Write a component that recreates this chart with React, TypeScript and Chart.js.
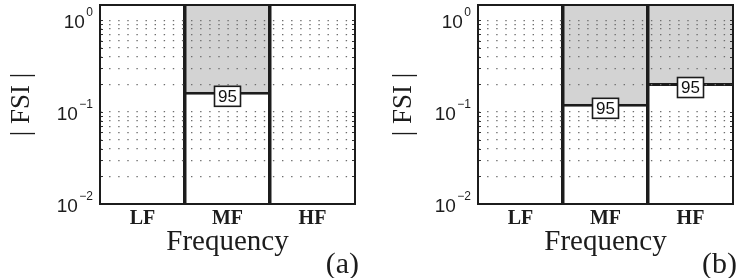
import React, { useEffect, useRef } from 'react';
import { Chart, registerables } from 'chart.js';

Chart.register(...registerables);

const CATEGORIES = ['LF', 'MF', 'HF'];
const THRESHOLDS_A: (number | null)[] = [null, 0.154, null];
const THRESHOLDS_B: (number | null)[] = [null, 0.114, 0.192];
const BOX_LABELS_A = ['', '95', ''];
const BOX_LABELS_B = ['', '95', '95'];
const PANEL_TAGS = ['(a)', '(b)'];
const X_TITLE = 'Frequency';
const Y_TITLE = '| FSI |';
const Y_MIN = 0.01;
const Y_MAX = 1.46;
const Y_MAJOR_VALUES = [0.01, 0.1, 1];
const Y_TICK_BASE = '10';
const Y_TICK_EXPONENTS = ['\u22122', '\u22121', '0'];
const Y_GRID_VALUES = [
  0.01, 0.02, 0.03, 0.04, 0.05, 0.06, 0.07, 0.08, 0.09,
  0.1, 0.2, 0.3, 0.4, 0.5, 0.6, 0.7, 0.8, 0.9,
  1,
];

const INK = '#1c1c1c';
const SERIF = '"Liberation Serif", "Times New Roman", serif';
const SANS = '"Liberation Sans", Arial, sans-serif';

type PanelProps = {
  thresholds: (number | null)[];
  boxLabels: string[];
  tag: string;
  left: number;
  yTitlePad: number;
};

function Panel({ thresholds, boxLabels, tag, left, yTitlePad }: PanelProps) {
  const ref = useRef<HTMLCanvasElement>(null);

  useEffect(() => {
    const canvas = ref.current;
    if (!canvas) return;

    // thick separators only at inner category boundaries next to a shaded column
    const isThick = (c: any) => {
      if (c.type !== 'tick') return false;
      const b = c.index;
      if (b <= 0 || b >= CATEGORIES.length) return false;
      return thresholds[b - 1] != null || thresholds[b] != null;
    };

    const overlay = {
      id: 'overlay',
      afterDraw(chart: any) {
        const { ctx, chartArea: a, scales } = chart;
        const xs = scales.x;
        const ys = scales.y;
        ctx.save();

        // inside tick marks on left and right axes
        ctx.strokeStyle = '#333';
        ctx.lineWidth = 1;
        Y_GRID_VALUES.forEach((v) => {
          const py = Math.round(ys.getPixelForValue(v)) + 0.5;
          ctx.beginPath();
          ctx.moveTo(a.left, py);
          ctx.lineTo(a.left + 3, py);
          ctx.moveTo(a.right - 3, py);
          ctx.lineTo(a.right, py);
          ctx.stroke();
        });

        // axes box
        ctx.strokeStyle = INK;
        ctx.lineWidth = 2;
        ctx.strokeRect(a.left, a.top, a.right - a.left, a.bottom - a.top);

        // y tick labels with superscript exponents
        ctx.fillStyle = INK;
        ctx.textBaseline = 'alphabetic';
        Y_MAJOR_VALUES.forEach((v, i) => {
          const py = ys.getPixelForValue(v);
          const right = a.left - 7;
          const exp = Y_TICK_EXPONENTS[i];
          ctx.font = `12px ${SANS}`;
          const ew = ctx.measureText(exp).width;
          ctx.textAlign = 'left';
          ctx.fillText(exp, right - ew, py - 4);
          ctx.font = `19px ${SANS}`;
          ctx.textAlign = 'right';
          ctx.fillText(Y_TICK_BASE, right - ew - 1.5, py + 7.5);
        });

        // threshold value boxes
        thresholds.forEach((t, i) => {
          if (t == null) return;
          const px = xs.getPixelForValue(i);
          const py = ys.getPixelForValue(t) + 1.5;
          const w = 26;
          const h = 20;
          ctx.fillStyle = '#ffffff';
          ctx.fillRect(px - w / 2, py - h / 2, w, h);
          ctx.strokeStyle = INK;
          ctx.lineWidth = 1.6;
          ctx.strokeRect(px - w / 2, py - h / 2, w, h);
          ctx.fillStyle = '#111';
          ctx.font = `17px ${SANS}`;
          ctx.textAlign = 'center';
          ctx.textBaseline = 'middle';
          ctx.fillText(boxLabels[i], px, py + 1);
        });

        // panel tag
        ctx.fillStyle = INK;
        ctx.font = `30px ${SERIF}`;
        ctx.textAlign = 'right';
        ctx.textBaseline = 'alphabetic';
        ctx.fillText(tag, chart.width - 1, 273);
        ctx.restore();
      },
    };

    const chart = new Chart(canvas, {
      type: 'bar',
      data: {
        labels: CATEGORIES,
        datasets: [
          {
            data: thresholds.map((t) => (t == null ? null : [t, Y_MAX])) as any,
            backgroundColor: '#d3d3d3',
            borderColor: INK,
            borderWidth: { top: 0, right: 0, bottom: 3, left: 0 },
            borderSkipped: false,
            barPercentage: 1,
            categoryPercentage: 1,
            inflateAmount: 0,
          } as any,
        ],
      },
      options: {
        responsive: false,
        devicePixelRatio: 1,
        animation: false,
        layout: { padding: { left: 0, right: 5, top: 5, bottom: 0 } },
        plugins: {
          legend: { display: false },
          tooltip: { enabled: false },
        },
        scales: {
          x: {
            type: 'category',
            offset: true,
            afterFit: (s: any) => {
              s.height = 74;
            },
            grid: {
              offset: true,
              z: 1,
              drawTicks: false,
              color: (c: any) => (isThick(c) ? INK : 'rgba(0,0,0,0)'),
              lineWidth: (c: any) => (isThick(c) ? 3.5 : 0),
            },
            border: { display: false },
            ticks: {
              padding: 3,
              color: INK,
              font: { family: SERIF, size: 20, weight: 'bold' },
            },
            title: {
              display: true,
              text: X_TITLE,
              color: INK,
              font: { family: SERIF, size: 29 },
              padding: { top: 0, bottom: 18 },
            },
          } as any,
          y: {
            type: 'logarithmic',
            min: Y_MIN,
            max: Y_MAX,
            afterFit: (s: any) => {
              s.width = 100;
            },
            afterBuildTicks: (s: any) => {
              s.ticks = Y_GRID_VALUES.map((v) => ({ value: v }));
            },
            grid: {
              z: 1,
              drawTicks: false,
              color: '#6e6e6e',
              lineWidth: 1.2,
            },
            border: { display: false, dash: [1.4, 7.7] },
            ticks: { display: false },
            title: {
              display: true,
              text: Y_TITLE,
              color: INK,
              font: { family: SERIF, size: 27 },
              padding: { top: yTitlePad, bottom: 0 },
            },
          } as any,
        },
      },
      plugins: [overlay],
    });

    return () => chart.destroy();
  }, [thresholds, boxLabels, tag]);

  return (
    <canvas
      ref={ref}
      width={360}
      height={278}
      style={{ position: 'absolute', left, top: 0, width: 360, height: 278 }}
    />
  );
}

export default function App() {
  return (
    <div
      style={{
        position: 'absolute',
        left: 0,
        top: 0,
        width: 738,
        height: 278,
        background: '#ffffff',
        overflow: 'hidden',
      }}
    >
      <Panel thresholds={THRESHOLDS_A} boxLabels={BOX_LABELS_A} tag={PANEL_TAGS[0]} left={0} yTitlePad={6} />
      <Panel thresholds={THRESHOLDS_B} boxLabels={BOX_LABELS_B} tag={PANEL_TAGS[1]} left={378} yTitlePad={9.5} />
    </div>
  );
}
